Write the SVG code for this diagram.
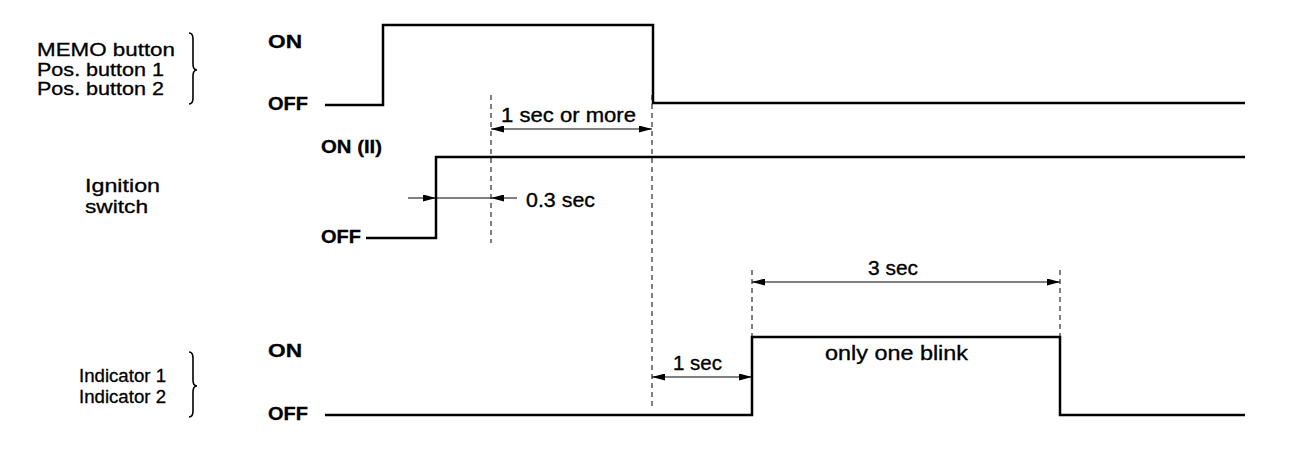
<svg xmlns="http://www.w3.org/2000/svg" width="1312" height="462" viewBox="0 0 1312 462">
<style>
.lbl{font-family:"Liberation Sans",Arial,sans-serif;font-size:18.5px;fill:#000;stroke:#000;stroke-width:0.3}
.dl{font-family:"Liberation Sans",Arial,sans-serif;font-size:20.5px;fill:#000;stroke:#000;stroke-width:0.35}
.st{font-family:"Liberation Sans",Arial,sans-serif;font-size:19px;font-weight:bold;fill:#000;stroke:#000;stroke-width:0.3}
.sig{fill:none;stroke:#000;stroke-width:2.5}
.dash{fill:none;stroke:#000;stroke-width:1;stroke-dasharray:5 4}
.dim{fill:none;stroke:#000;stroke-width:1}
.brace{fill:none;stroke:#000;stroke-width:1.6}
</style>
<defs>
<marker id="ah" viewBox="0 0 13 7" refX="13" refY="3.5" markerWidth="13" markerHeight="7" markerUnits="userSpaceOnUse" orient="auto-start-reverse">
<path d="M0,0 L13,3.5 L0,7 Z" fill="#000"/>
</marker>
</defs>
<rect width="1312" height="462" fill="#fff"/>
<g id="memo">
<text class="lbl" x="37" y="56" textLength="138" lengthAdjust="spacingAndGlyphs">MEMO button</text>
<text class="lbl" x="37" y="76" textLength="127" lengthAdjust="spacingAndGlyphs">Pos. button 1</text>
<text class="lbl" x="37" y="95" textLength="127" lengthAdjust="spacingAndGlyphs">Pos. button 2</text>
<path class="brace" d="M189,33 Q193,33 193,39 L193,64 Q193,70 197,70 Q193,70 193,76 L193,98 Q193,104 189,104"/>
<text class="st" x="268" y="48" textLength="34" lengthAdjust="spacingAndGlyphs">ON</text>
<text class="st" x="268" y="110" textLength="40" lengthAdjust="spacingAndGlyphs">OFF</text>
<path class="sig" d="M325,105 L383,105 L383,25 L653,25 L653,103 L1245,103"/>
</g>
<g id="ignition">
<text class="lbl" x="85" y="192" textLength="75" lengthAdjust="spacingAndGlyphs">Ignition</text>
<text class="lbl" x="85" y="213" textLength="63" lengthAdjust="spacingAndGlyphs">switch</text>
<text class="st" x="321" y="153" textLength="61" lengthAdjust="spacingAndGlyphs">ON (II)</text>
<text class="st" x="321" y="243" textLength="40" lengthAdjust="spacingAndGlyphs">OFF</text>
<path class="sig" d="M366,238 L436,238 L436,157 L1245,157"/>
</g>
<g id="indicator">
<text class="lbl" x="79" y="382" style="font-size:17.5px" textLength="87" lengthAdjust="spacingAndGlyphs">Indicator 1</text>
<text class="lbl" x="79" y="403" style="font-size:17.5px" textLength="87" lengthAdjust="spacingAndGlyphs">Indicator 2</text>
<path class="brace" d="M189,352 Q193,352 193,358 L193,380 Q193,386 197,386 Q193,386 193,392 L193,411 Q193,417 189,417"/>
<text class="st" x="268" y="357" textLength="34" lengthAdjust="spacingAndGlyphs">ON</text>
<text class="st" x="268" y="420" textLength="40" lengthAdjust="spacingAndGlyphs">OFF</text>
<path class="sig" d="M325,415 L752,415 L752,337 L1060,337 L1060,415 L1245,415"/>
<text class="dl" x="825" y="360" textLength="143" lengthAdjust="spacingAndGlyphs">only one blink</text>
</g>
<g id="connectors">
<line class="dash" x1="491" y1="95" x2="491" y2="243"/>
<line class="dash" x1="652" y1="95" x2="652" y2="410"/>
<line class="dash" x1="752" y1="270" x2="752" y2="337"/>
<line class="dash" x1="1060" y1="270" x2="1060" y2="337"/>
<line class="dim" x1="491" y1="129" x2="652" y2="129" marker-start="url(#ah)" marker-end="url(#ah)"/>
<text class="dl" x="501" y="122" textLength="135" lengthAdjust="spacingAndGlyphs">1 sec or more</text>
<line class="dim" x1="408" y1="198" x2="436" y2="198" marker-end="url(#ah)"/>
<line class="dim" x1="436" y1="198" x2="491" y2="198"/>
<line class="dim" x1="517" y1="198" x2="491" y2="198" marker-end="url(#ah)"/>
<text class="dl" x="526" y="207" textLength="69" lengthAdjust="spacingAndGlyphs">0.3 sec</text>
<line class="dim" x1="752" y1="282" x2="1060" y2="282" marker-start="url(#ah)" marker-end="url(#ah)"/>
<text class="dl" x="868" y="275" textLength="50" lengthAdjust="spacingAndGlyphs">3 sec</text>
<line class="dim" x1="652" y1="377" x2="752" y2="377" marker-start="url(#ah)" marker-end="url(#ah)"/>
<text class="dl" x="673" y="370" textLength="49" lengthAdjust="spacingAndGlyphs">1 sec</text>
</g>
</svg>
